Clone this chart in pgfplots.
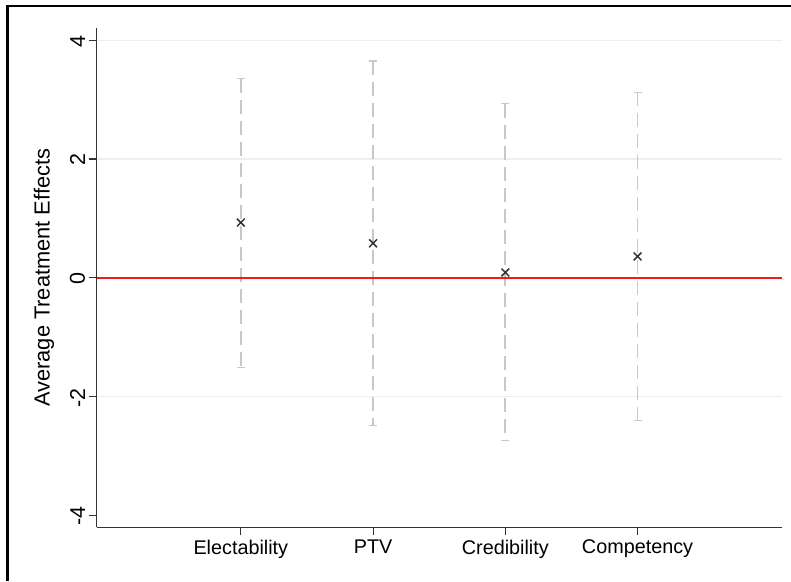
\documentclass[border=0pt]{standalone}
\usepackage{pgfplots}
\pgfplotsset{compat=1.18}
\usepackage{pgfplotstable}
\usepackage{fontspec}
\setmainfont{Liberation Sans}

\definecolor{cigray}{HTML}{C8C8C8}
\definecolor{gridc}{HTML}{E8F0F1}
\definecolor{axc}{HTML}{333333}
\definecolor{zeroc}{HTML}{F21B1B}

% estimate, lower and upper 95% bounds
\pgfplotstableread{
x  est   lo     hi
1  0.93  -1.51  3.35
2  0.58  -2.49  3.65
3  0.09  -2.74  2.93
4  0.36  -2.40  3.12
}\effects

\pgfplotsset{
  ci/.style={cigray, line width=1.8pt, dash pattern=on 14pt off 7pt},
  cap/.style={only marks, mark=-, mark size=4pt,
              mark options={cigray, line width=1.4pt, solid}},
}

\begin{document}
\begin{tikzpicture}[x=1pt,y=1pt]
\useasboundingbox (0,0) rectangle (791,581);
\draw[black, line width=2.4pt] (7.5,0) -- (7.5,575) -- (791,575);
\begin{axis}[
  at={(96.7pt,53.7pt)}, anchor=south west,
  scale only axis, width=685pt, height=499pt,
  xmin=-0.09, xmax=5.09, ymin=-4.2, ymax=4.2,
  axis x line=bottom, axis y line=left,
  axis line style={-, axc, line width=1.1pt},
  tick style={axc, line width=1.1pt},
  tick align=outside, major tick length=8pt,
  xtick={1,2,3,4},
  xticklabels={Electability,PTV,Credibility,Competency},
  ytick={-4,-2,0,2,4},
  font=\fontsize{19.8}{23}\selectfont,
  xticklabel style={font=\fontsize{19.8}{23}\selectfont, yshift=-1pt},
  /pgf/number format/assume math mode=true,
  yticklabel style={font=\fontsize{21.5}{25}\selectfont,
                    rotate=90, anchor=south, xshift=-1pt},
  ylabel={Average Treatment Effects},
  ylabel style={font=\fontsize{21.8}{25}\selectfont, yshift=9pt},
  clip=false,
]
% horizontal grid
\addplot[gridc, line width=1.2pt] coordinates {(-0.09,4) (5.09,4)};
\addplot[gridc, line width=1.2pt] coordinates {(-0.09,2) (5.09,2)};
\addplot[gridc, line width=1.2pt] coordinates {(-0.09,-2) (5.09,-2)};
% confidence intervals, drawn from the upper bound down
\addplot[ci] coordinates {(1,3.35) (1,-1.51)};
\addplot[ci] coordinates {(2,3.65) (2,-2.49)};
\addplot[ci] coordinates {(3,2.93) (3,-2.74)};
\addplot[ci] coordinates {(4,3.12) (4,-2.40)};
\addplot[cap] table[x=x, y=hi] {\effects};
\addplot[cap] table[x=x, y=lo] {\effects};
% reference line at zero
\addplot[zeroc, line width=1.6pt] coordinates {(-0.09,0) (5.09,0)};
% point estimates
\addplot[only marks, mark=x, mark size=5.5pt, mark options={axc, line width=1.5pt}]
  table[x=x, y=est] {\effects};
\end{axis}
\end{tikzpicture}
\end{document}
